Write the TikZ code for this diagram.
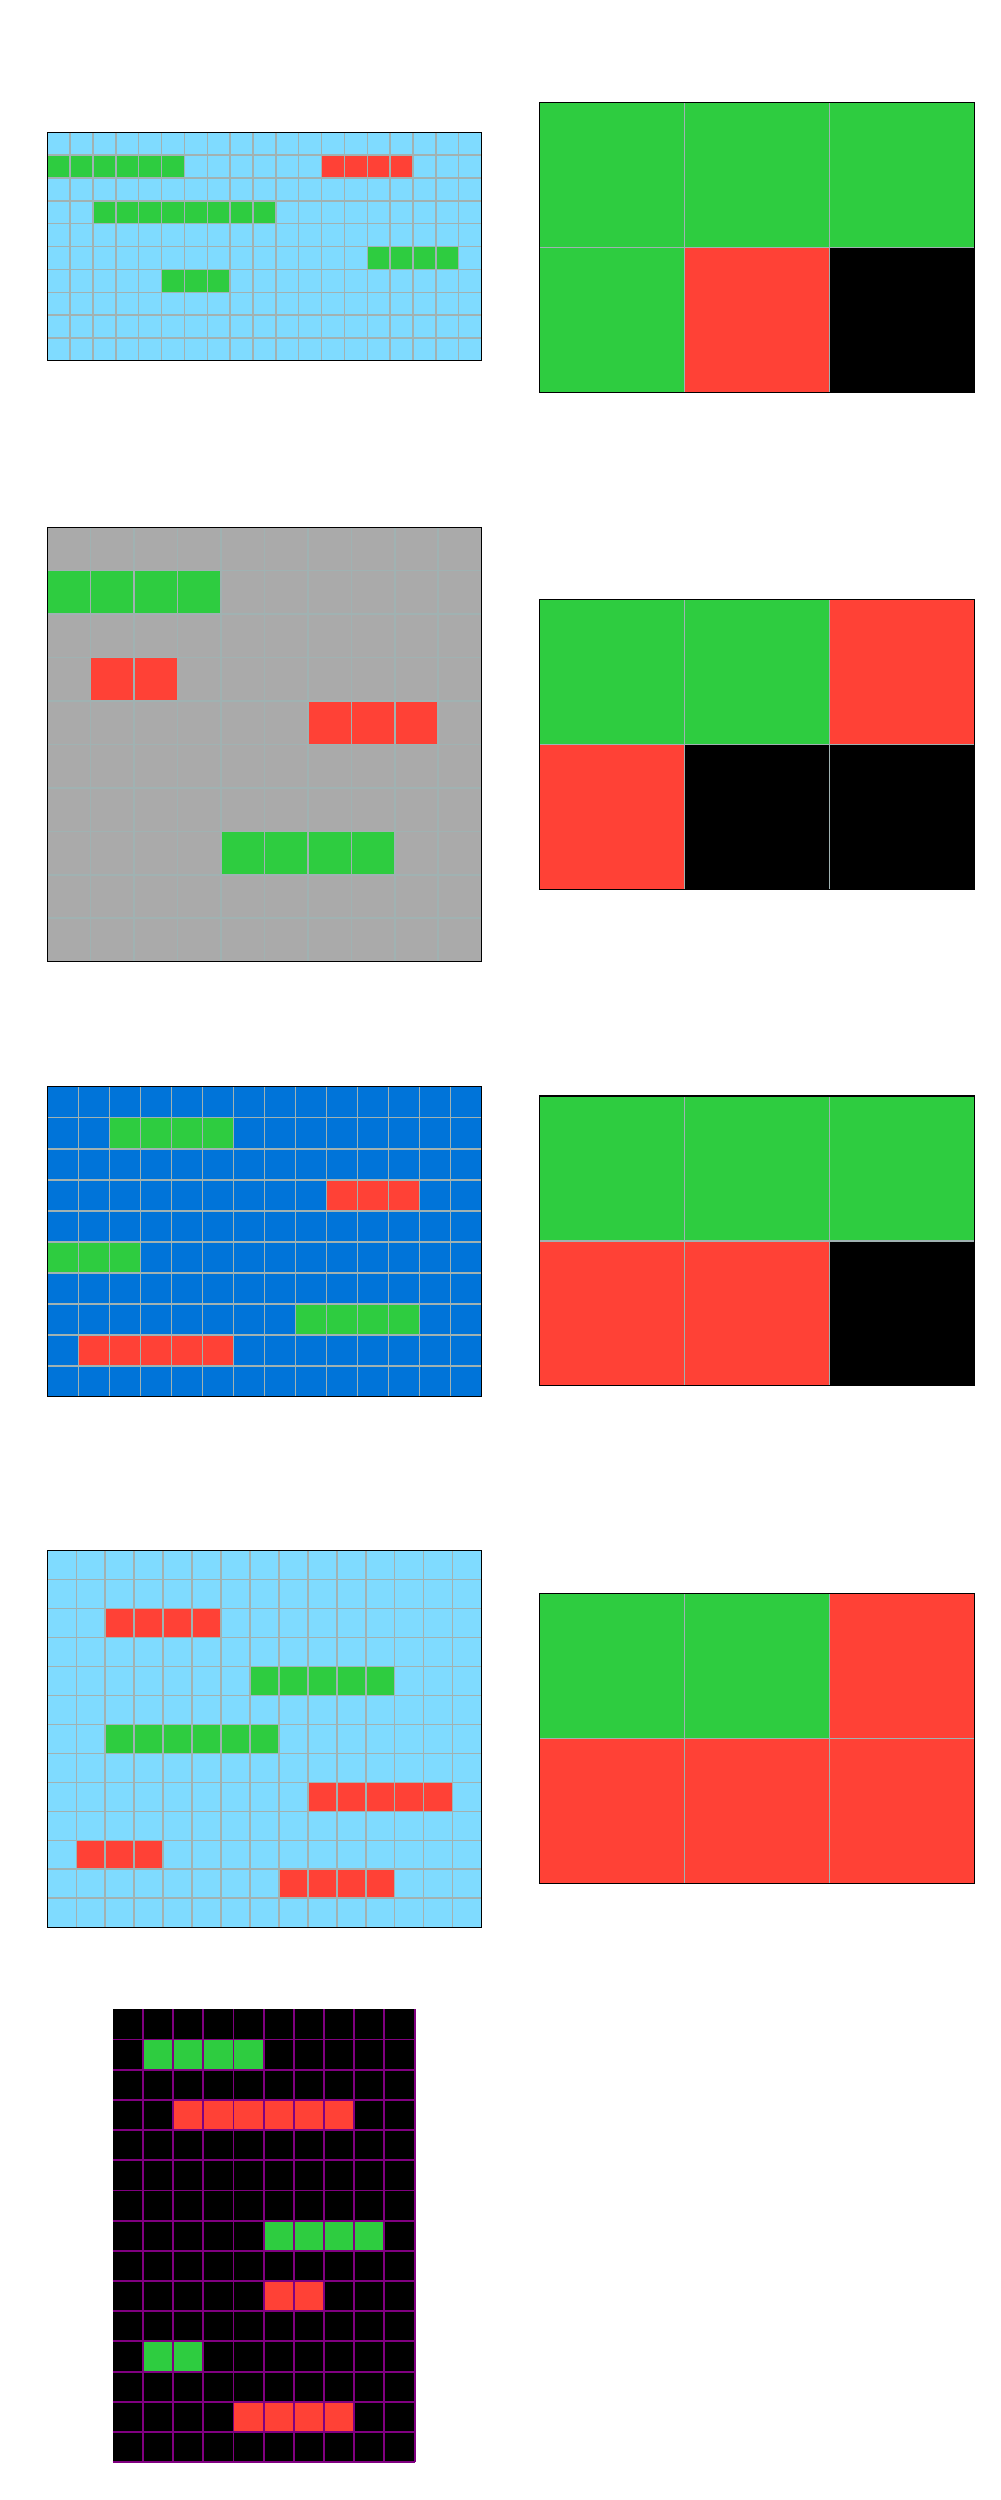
\documentclass[tikz,border=0pt]{standalone}
\definecolor{arcblack}{HTML}{000000}
\definecolor{arcblue}{HTML}{0074D9}
\definecolor{arcred}{HTML}{FF4136}
\definecolor{arcgreen}{HTML}{2ECC40}
\definecolor{arcgrey}{HTML}{AAAAAA}
\definecolor{arcazure}{HTML}{7FDBFF}
\definecolor{linegrey}{HTML}{A0B2B2}
\definecolor{linepurple}{HTML}{800080}

\begin{document}
\begin{tikzpicture}[x=0.02cm, y=-0.02cm,
  cellline/.style={draw=linegrey, line width=0.85pt},
  darkline/.style={draw=linepurple, line width=1.1pt},
  frame/.style={draw=black, line width=0.6pt}]
\useasboundingbox (0,0) rectangle (1000,2500);

% input 1 (19 x 10)
\begin{scope}[shift={(47.3,132.3)}, x=0.4572cm, y=-0.4572cm]
  \fill[arcazure] (0,0) rectangle (19,10);
  \foreach \r/\a/\b/\c in {1/0/5/arcgreen, 1/12/15/arcred, 3/2/9/arcgreen,
                            5/14/17/arcgreen, 6/5/7/arcgreen}
    \fill[\c] (\a,\r) rectangle (\b+1,\r+1);
  \foreach \i in {1,...,18} \draw[cellline] (\i,0) -- (\i,10);
  \foreach \j in {1,...,9} \draw[cellline] (0,\j) -- (19,\j);
  \draw[frame] (0,0) rectangle (19,10);
\end{scope}

% output 1
\begin{scope}[shift={(539.3,102.3)}, x=2.9cm, y=-2.9cm]
  \foreach \r/\a/\b/\c in {0/0/2/arcgreen, 1/0/0/arcgreen, 1/1/1/arcred, 1/2/2/arcblack}
    \fill[\c] (\a,\r) rectangle (\b+1,\r+1);
  \foreach \i in {1,2} \draw[cellline] (\i,0) -- (\i,2);
  \draw[cellline] (0,1) -- (3,1);
  \draw[frame] (0,0) rectangle (3,2);
\end{scope}

% input 2 (10 x 10)
\begin{scope}[shift={(47.3,527.3)}, x=0.8688cm, y=-0.8688cm]
  \fill[arcgrey] (0,0) rectangle (10,10);
  \foreach \r/\a/\b/\c in {1/0/3/arcgreen, 3/1/2/arcred, 4/6/8/arcred, 7/4/7/arcgreen}
    \fill[\c] (\a,\r) rectangle (\b+1,\r+1);
  \foreach \i in {1,...,9} \draw[cellline] (\i,0) -- (\i,10);
  \foreach \j in {1,...,9} \draw[cellline] (0,\j) -- (10,\j);
  \draw[frame] (0,0) rectangle (10,10);
\end{scope}

% output 2
\begin{scope}[shift={(539.3,599.3)}, x=2.9cm, y=-2.9cm]
  \foreach \r/\a/\b/\c in {0/0/1/arcgreen, 0/2/2/arcred, 1/0/0/arcred, 1/1/2/arcblack}
    \fill[\c] (\a,\r) rectangle (\b+1,\r+1);
  \foreach \i in {1,2} \draw[cellline] (\i,0) -- (\i,2);
  \draw[cellline] (0,1) -- (3,1);
  \draw[frame] (0,0) rectangle (3,2);
\end{scope}

% input 3 (14 x 10)
\begin{scope}[shift={(47.3,1086.7)}, x=0.6206cm, y=-0.6206cm]
  \fill[arcblue] (0,0) rectangle (14,10);
  \foreach \r/\a/\b/\c in {1/2/5/arcgreen, 3/9/11/arcred, 5/0/2/arcgreen,
                            7/8/11/arcgreen, 8/1/5/arcred}
    \fill[\c] (\a,\r) rectangle (\b+1,\r+1);
  \foreach \i in {1,...,13} \draw[cellline] (\i,0) -- (\i,10);
  \foreach \j in {1,...,9} \draw[cellline] (0,\j) -- (14,\j);
  \draw[frame] (0,0) rectangle (14,10);
\end{scope}

% output 3
\begin{scope}[shift={(539.3,1096)}, x=2.9cm, y=-2.9cm]
  \foreach \r/\a/\b/\c in {0/0/2/arcgreen, 1/0/1/arcred, 1/2/2/arcblack}
    \fill[\c] (\a,\r) rectangle (\b+1,\r+1);
  \foreach \i in {1,2} \draw[cellline] (\i,0) -- (\i,2);
  \draw[cellline] (0,1) -- (3,1);
  \draw[frame] (0,0) rectangle (3,2);
\end{scope}

% input 4 (15 x 13)
\begin{scope}[shift={(47.3,1550.7)}, x=0.5792cm, y=-0.5792cm]
  \fill[arcazure] (0,0) rectangle (15,13);
  \foreach \r/\a/\b/\c in {2/2/5/arcred, 4/7/11/arcgreen, 6/2/7/arcgreen,
                            8/9/13/arcred, 10/1/3/arcred, 11/8/11/arcred}
    \fill[\c] (\a,\r) rectangle (\b+1,\r+1);
  \foreach \i in {1,...,14} \draw[cellline] (\i,0) -- (\i,13);
  \foreach \j in {1,...,12} \draw[cellline] (0,\j) -- (15,\j);
  \draw[frame] (0,0) rectangle (15,13);
\end{scope}

% output 4
\begin{scope}[shift={(539.3,1593.3)}, x=2.9cm, y=-2.9cm]
  \foreach \r/\a/\b/\c in {0/0/1/arcgreen, 0/2/2/arcred, 1/0/2/arcred}
    \fill[\c] (\a,\r) rectangle (\b+1,\r+1);
  \foreach \i in {1,2} \draw[cellline] (\i,0) -- (\i,2);
  \draw[cellline] (0,1) -- (3,1);
  \draw[frame] (0,0) rectangle (3,2);
\end{scope}

% test input (10 x 15)
\begin{scope}[shift={(112.7,2009.3)}, x=0.604cm, y=-0.604cm]
  \fill[arcblack] (0,0) rectangle (10,15);
  \foreach \r/\a/\b/\c in {1/1/4/arcgreen, 3/2/7/arcred, 7/5/8/arcgreen,
                            9/5/6/arcred, 11/1/2/arcgreen, 13/4/7/arcred}
    \fill[\c] (\a,\r) rectangle (\b+1,\r+1);
  \foreach \i in {1,...,10} \draw[darkline] (\i,0) -- (\i,15);
  \foreach \j in {1,...,15} \draw[darkline] (0,\j) -- (10,\j);
\end{scope}
\end{tikzpicture}
\end{document}
